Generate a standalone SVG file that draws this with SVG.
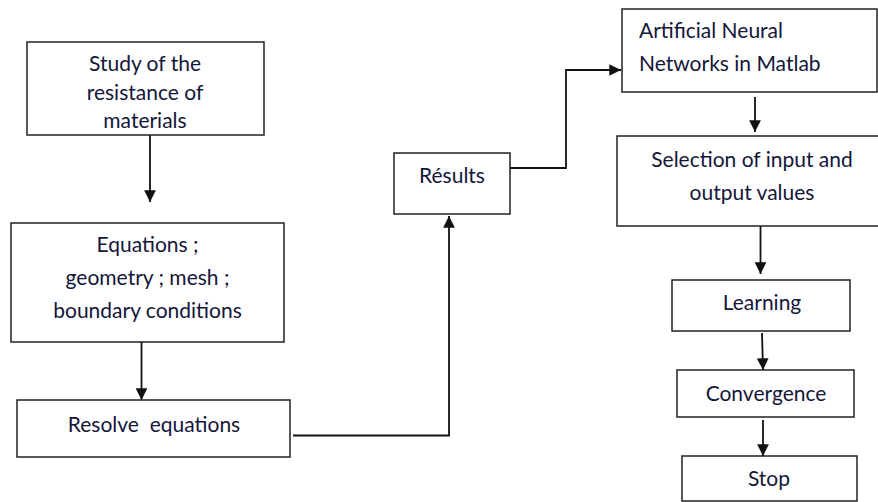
<svg xmlns="http://www.w3.org/2000/svg" width="878" height="502" viewBox="0 0 878 502">
<style>
.box{fill:#fff;stroke:#222;stroke-width:1.5}
.t{font-family:Lato,"Liberation Sans",sans-serif;font-size:21px;fill:#14163a}
.c{text-anchor:middle}
.con{fill:none;stroke:#111;stroke-width:1.8}
</style>
<defs>
<marker id="ah" viewBox="0 0 10 10" refX="10" refY="5" markerWidth="6.5" markerHeight="6.5" markerUnits="strokeWidth" orient="auto">
<path d="M0,0 L10,5 L0,10 z" fill="#111"/>
</marker>
</defs>
<rect width="878" height="502" fill="#fff"/>
<g id="connectors">
<path class="con" d="M150,135 V202" marker-end="url(#ah)"/>
<path class="con" d="M141.5,342 V400" marker-end="url(#ah)"/>
<path class="con" d="M293,435.5 H449 V216" marker-end="url(#ah)"/>
<path class="con" d="M510,168 H566 V70 H621" marker-end="url(#ah)"/>
<path class="con" d="M755,97 V132" marker-end="url(#ah)"/>
<path class="con" d="M760.5,226 V274" marker-end="url(#ah)"/>
<path class="con" d="M762,333 L763,370" marker-end="url(#ah)"/>
<path class="con" d="M763,420 V456" marker-end="url(#ah)"/>
</g>
<g id="study">
<rect class="box" x="27" y="42" width="237" height="93"/>
<text class="t c" x="145" y="71">Study of the</text>
<text class="t c" x="145" y="100">resistance of</text>
<text class="t c" x="145" y="128">materials</text>
</g>
<g id="equations">
<rect class="box" x="11" y="223" width="273" height="119"/>
<text class="t c" x="147.5" y="252">Equations ;</text>
<text class="t c" x="147.5" y="285">geometry ; mesh ;</text>
<text class="t c" x="147.5" y="318">boundary conditions</text>
</g>
<g id="resolve">
<rect class="box" x="17" y="400" width="273" height="57"/>
<text class="t c" x="154" y="432" xml:space="preserve">Resolve  equations</text>
</g>
<g id="results">
<rect class="box" x="394" y="153" width="116" height="61"/>
<text class="t c" x="452" y="183">Résults</text>
</g>
<g id="ann">
<rect class="box" x="622" y="9" width="255" height="83"/>
<text class="t" x="639" y="38">Artificial Neural</text>
<text class="t" x="639" y="71">Networks in Matlab</text>
</g>
<g id="selection">
<rect class="box" x="617" y="136" width="270" height="90"/>
<text class="t c" x="752" y="167">Selection of input and</text>
<text class="t c" x="752" y="200">output values</text>
</g>
<g id="learning">
<rect class="box" x="672" y="280" width="178" height="51"/>
<text class="t c" x="762" y="310">Learning</text>
</g>
<g id="convergence">
<rect class="box" x="677" y="370" width="177" height="47"/>
<text class="t c" x="766" y="401">Convergence</text>
</g>
<g id="stop">
<rect class="box" x="682" y="456" width="175" height="45"/>
<text class="t c" x="769" y="486">Stop</text>
</g>
</svg>
